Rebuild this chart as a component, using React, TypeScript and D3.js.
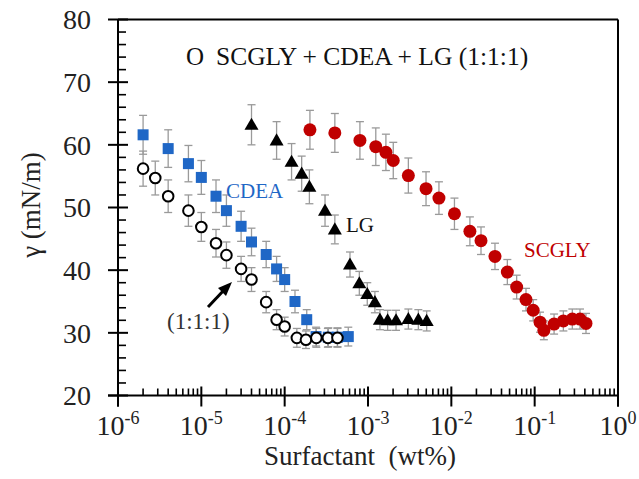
import * as d3 from 'd3';

// surface tension vs concentration
const mixX = [2e-6, 2.8e-6, 4e-6, 7e-6, 1e-5, 1.5e-5, 2e-5, 3e-5, 4e-5, 6e-5, 8e-5, 1e-4, 1.4e-4, 1.8e-4, 2.4e-4, 3.3e-4, 4.3e-4];
const mixY = [56.2, 54.7, 51.8, 49.5, 46.9, 44.3, 42.4, 40.2, 38.5, 34.9, 32.1, 31.0, 29.2, 28.9, 29.2, 29.2, 29.2];
const mixErr = [2.8, 2.7, 2.6, 2.5, 2.3, 2.2, 2.1, 2.0, 1.9, 1.7, 1.6, 1.5, 1.5, 1.4, 1.5, 1.5, 1.5];

const cdeaX = [2e-6, 4e-6, 7e-6, 1e-5, 1.5e-5, 2e-5, 3e-5, 4e-5, 6e-5, 8e-5, 1e-4, 1.33e-4, 1.84e-4, 2.38e-4, 3.34e-4, 4.3e-4, 5.8e-4];
const cdeaY = [61.6, 59.4, 57.0, 54.8, 51.8, 49.5, 47.0, 44.5, 42.5, 40.2, 38.5, 35.0, 32.1, 29.4, 29.3, 29.3, 29.4];
const cdeaErr = [3.1, 3.0, 2.9, 2.7, 2.6, 2.5, 2.4, 2.2, 2.1, 2.0, 1.9, 1.8, 1.6, 1.5, 1.5, 1.5, 1.5];

const lgX = [4e-5, 8e-5, 1.21e-4, 1.6e-4, 1.98e-4, 3.05e-4, 4e-4, 6.08e-4, 7.87e-4, 9.8e-4, 1.21e-3, 1.39e-3, 1.72e-3, 2.17e-3, 3.05e-3, 4.02e-3, 5.06e-3];
const lgY = [63.2, 60.7, 57.3, 55.4, 53.3, 49.5, 46.5, 40.9, 37.9, 36.2, 34.9, 32.1, 32.0, 32.0, 32.2, 32.1, 31.9];
const lgErr = [3.2, 3.0, 2.9, 2.8, 2.7, 2.5, 2.3, 2.0, 1.9, 1.8, 1.7, 1.6, 1.6, 1.6, 1.6, 1.6, 1.6];

const scglyX = [2.01e-4, 4e-4, 8e-4, 1.24e-3, 1.64e-3, 2.01e-3, 3.05e-3, 4.97e-3, 7.1e-3, 1.09e-2, 1.67e-2, 2.27e-2, 3.34e-2, 4.7e-2, 6.08e-2, 7.87e-2, 9.6e-2, 1.16e-1, 1.29e-1, 1.71e-1, 2.21e-1, 2.83e-1, 3.5e-1, 4.13e-1];
const scglyY = [62.4, 61.9, 60.7, 59.7, 58.8, 57.5, 55.1, 53.0, 51.5, 49.0, 46.2, 44.7, 42.2, 39.7, 37.3, 35.3, 33.6, 31.7, 30.4, 31.4, 31.9, 32.2, 32.2, 31.5];
const scglyErr = [3.1, 3.1, 3.0, 3.0, 2.9, 2.9, 2.8, 2.7, 2.6, 2.5, 2.3, 2.2, 2.1, 2.0, 1.9, 1.8, 1.7, 1.6, 1.5, 1.6, 1.6, 1.6, 1.6, 1.6];

const xDecades = [-6, -5, -4, -3, -2, -1, 0];
const yTicks = [20, 30, 40, 50, 60, 70, 80];

const W = 639, H = 479;
const left = 118, right = 618, top = 19.5, bottom = 395.5;
const FONT = '"Liberation Serif", "Times New Roman", serif';
const RED = '#c00000';
const BLUE = '#1f67c6';

export default function App() {
  const x = d3.scaleLog().domain([1e-6, 1]).range([left, right]);
  const y = d3.scaleLinear().domain([20, 80]).range([bottom, top]);

  const minorX: number[] = [];
  for (let k = -6; k < 0; k++) for (let m = 2; m <= 9; m++) minorX.push(m * Math.pow(10, k));
  const minorY = d3.range(22, 80, 2).filter(v => v % 10 !== 0);

  const errBars = (xs: number[], ys: number[], es: number[], key: string) =>
    xs.map((v, i) => {
      const cx = x(v), y1 = y(ys[i] + es[i]), y2 = y(ys[i] - es[i]);
      return (
        <g key={key + i} stroke="#9a9a9a" strokeWidth={1.3}>
          <line x1={cx} x2={cx} y1={y1} y2={y2} />
          <line x1={cx - 4} x2={cx + 4} y1={y1} y2={y1} />
          <line x1={cx - 4} x2={cx + 4} y1={y2} y2={y2} />
        </g>
      );
    });

  const tri = d3.symbol().type(d3.symbolTriangle).size(85)();

  return (
    <svg width={W} height={H} style={{ position: 'absolute', left: 0, top: 0, background: '#fff' }} fontFamily={FONT}>
      {/* frame */}
      <g stroke="#000" strokeWidth={2} fill="none">
        <line x1={left} x2={right} y1={top} y2={top} />
        <line x1={right} x2={right} y1={top} y2={bottom + 11} />
        <line x1={left} x2={left} y1={top} y2={bottom + 11} />
        <line x1={left - 10} x2={right} y1={bottom} y2={bottom} />
        {xDecades.map(d => (
          <line key={'xM' + d} x1={x(Math.pow(10, d))} x2={x(Math.pow(10, d))} y1={bottom - 9} y2={bottom + 11} />
        ))}
        {minorX.map((v, i) => (
          <line key={'xm' + i} x1={x(v)} x2={x(v)} y1={bottom - 7} y2={bottom} strokeWidth={1.6} />
        ))}
        {yTicks.map(t => (
          <line key={'yM' + t} x1={left - 10} x2={left + 10} y1={y(t)} y2={y(t)} />
        ))}
        {minorY.map(t => (
          <line key={'ym' + t} x1={left} x2={left + 8} y1={y(t)} y2={y(t)} strokeWidth={1.6} />
        ))}
      </g>

      {/* tick labels */}
      {yTicks.map(t => (
        <text key={'yl' + t} x={91} y={y(t)} dy="0.35em" textAnchor="end" fontSize={28} fill="#222">{t}</text>
      ))}
      {xDecades.map(d => (
        <text key={'xl' + d} x={x(Math.pow(10, d))} y={435} textAnchor="middle" fontSize={28} fill="#222">
          10<tspan fontSize={18} dy={-11}>{d}</tspan>
        </text>
      ))}

      {/* axis titles */}
      <text x={360} y={465} textAnchor="middle" fontSize={27} fill="#222" style={{ whiteSpace: 'pre' }}>Surfactant  (wt%)</text>
      <text transform={`translate(40,${205}) rotate(-90)`} textAnchor="middle" fontSize={27} fill="#222">γ (mN/m)</text>

      {/* error bars */}
      {errBars(scglyX, scglyY, scglyErr, 'es')}
      {errBars(lgX, lgY, lgErr, 'el')}
      {errBars(cdeaX, cdeaY, cdeaErr, 'ec')}
      {errBars(mixX, mixY, mixErr, 'em')}

      {/* markers */}
      {scglyX.map((v, i) => (
        <circle key={'s' + i} cx={x(v)} cy={y(scglyY[i])} r={6.5} fill={RED} />
      ))}
      {lgX.map((v, i) => (
        <path key={'l' + i} d={tri as string} transform={`translate(${x(v)},${y(lgY[i]) + 1})`} fill="#000" />
      ))}
      {cdeaX.map((v, i) => (
        <rect key={'c' + i} x={x(v) - 5.5} y={y(cdeaY[i]) - 5.5} width={11} height={11} fill={BLUE} />
      ))}
      {mixX.map((v, i) => (
        <circle key={'m' + i} cx={x(v)} cy={y(mixY[i])} r={5.3} fill="#fff" stroke="#000" strokeWidth={2} />
      ))}

      {/* annotations */}
      <text x={186} y={65} fontSize={25} fill="#111">O</text>
      <text x={216} y={65} fontSize={25.5} fill="#111">SCGLY + CDEA + LG (1:1:1)</text>
      <text x={226} y={198} fontSize={21} fill={BLUE}>CDEA</text>
      <text x={346} y={232} fontSize={21} fill="#111">LG</text>
      <text x={524} y={257} fontSize={21} fill={RED}>SCGLY</text>
      <text x={167} y={329} fontSize={23} fill="#333">(1:1:1)</text>
      <line x1={208} y1={307} x2={225} y2={289} stroke="#000" strokeWidth={3} />
      <path d="M232,282 L218,288 L226,296 Z" fill="#000" />
    </svg>
  );
}
